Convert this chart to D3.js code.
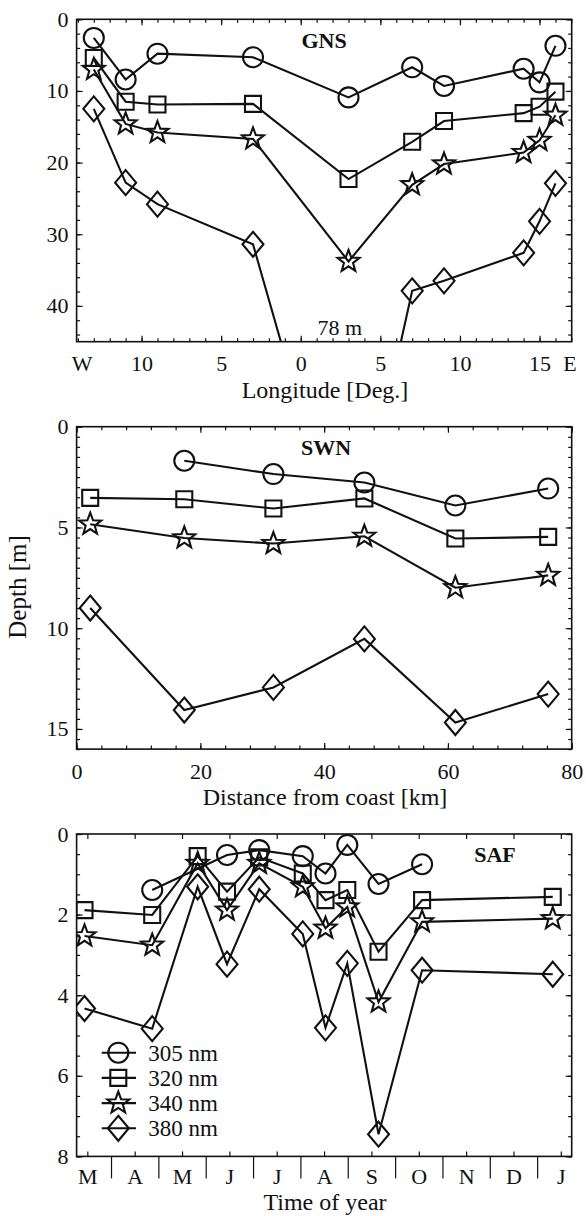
<!DOCTYPE html>
<html>
<head>
<meta charset="utf-8">
<script src="https://cdnjs.cloudflare.com/ajax/libs/d3/7.8.5/d3.min.js"></script>
<style>
  body { margin: 0; background: #fff; }
  text { font-family: "Liberation Serif", "Times New Roman", serif; fill: #111; }
</style>
</head>
<body>
<svg id="chart" width="586" height="1216"></svg>
<script>
// GNS panel: longitude, west is negative
const gnsLon = [-13, -11, -9, -3, 3, 7, 9, 14, 15, 16];
const gns305 = [2.6, 8.4, 4.8, 5.3, 10.9, 6.7, 9.3, 6.9, 8.8, 3.7];
const gns320 = [5.4, 11.5, 11.9, 11.8, 22.3, 17.1, 14.2, 13.1, 12.2, 10.1];
const gns340 = [7.0, 14.6, 15.8, 16.7, 33.8, 23.1, 20.2, 18.6, 16.9, 13.4];
const gns380 = [12.5, 22.8, 25.8, 31.4, 78, 37.9, 36.5, 32.6, 28.2, 22.9];
const gnsXTicks = [-10, -5, 0, 5, 10, 15];
const gnsYTicks = [0, 10, 20, 30, 40];

// SWN panel: distance from coast
const swnDist = [2.2, 17.4, 31.8, 46.5, 61.2, 76.2];
const swn305 = [null, 1.69, 2.35, 2.77, 3.91, 3.07];
const swn320 = [3.53, 3.6, 4.06, 3.56, 5.55, 5.47];
const swn340 = [4.84, 5.52, 5.8, 5.44, 7.99, 7.38];
const swn380 = [9.0, 14.06, 12.94, 10.53, 14.68, 13.27];
const swnXTicks = [0, 20, 40, 60, 80];
const swnYTicks = [0, 5, 10, 15];

// SAF panel: time of year in months (Jan = 0, March = 2..3)
const safMonth = [2.44, 3.87, 4.83, 5.45, 6.13, 7.05, 7.53, 7.99, 8.65, 9.57, 12.33];
const saf305 = [null, 1.39, null, 0.52, 0.40, 0.55, 0.98, 0.27, 1.24, 0.75, null];
const saf320 = [1.89, 2.01, 0.55, 1.43, 0.58, 0.98, 1.64, 1.39, 2.92, 1.64, 1.56];
const saf340 = [2.53, 2.76, 0.73, 1.89, 0.73, 1.31, 2.34, 1.81, 4.17, 2.18, 2.10];
const saf380 = [4.33, 4.83, 1.31, 3.23, 1.37, 2.48, 4.81, 3.21, 7.45, 3.38, 3.48];
const monthLabels = ["M", "A", "M", "J", "J", "A", "S", "O", "N", "D", "J"];
const safYTicks = [0, 2, 4, 6, 8];

const seriesNames = ["305 nm", "320 nm", "340 nm", "380 nm"];
const markerKinds = ["circle", "square", "star", "diamond"];

const svg = d3.select("#chart");
const left = 76.6, right = 571.7, plotH = 322.4;
const tickFont = 22;

function markerPath(kind) {
    if (kind === "circle") {
        const p = d3.path(); p.arc(0, 0, 10, 0, 2 * Math.PI); p.closePath(); return p.toString();
    }
    if (kind === "square") return "M-8,-8H8V8H-8Z";
    if (kind === "diamond") return "M0,-12.5L10.5,0L0,12.5L-10.5,0Z";
    const pts = d3.range(10).map(i => {
        const r = i % 2 === 0 ? 11.5 : 4.8;
        const a = -Math.PI / 2 + i * Math.PI / 5;
        return [r * Math.cos(a), r * Math.sin(a)];
    });
    return "M" + pts.map(p => p.join(",")).join("L") + "Z";
}

function drawPanel(id, top, xDomain, yDomain, xs, series) {
    const x = d3.scaleLinear().domain(xDomain).range([left, right]);
    const y = d3.scaleLinear().domain(yDomain).range([top, top + plotH]);
    const g = svg.append("g");

    g.append("clipPath").attr("id", "clip-" + id)
        .append("rect").attr("x", left).attr("y", top)
        .attr("width", right - left).attr("height", plotH);

    const plot = g.append("g").attr("clip-path", "url(#clip-" + id + ")");
    series.forEach((vals, si) => {
        const pts = xs.map((xv, i) => [xv, vals[i]]).filter(d => d[1] != null);
        plot.append("path")
            .attr("d", d3.line().x(d => x(d[0])).y(d => y(d[1]))(pts))
            .attr("fill", "none").attr("stroke", "#111").attr("stroke-width", 2.1);
        plot.selectAll(null).data(pts).enter().append("path")
            .attr("transform", d => "translate(" + x(d[0]) + "," + y(d[1]) + ")")
            .attr("d", markerPath(markerKinds[si]))
            .attr("fill", "none").attr("stroke", "#111").attr("stroke-width", 2.1);
    });

    g.append("rect").attr("x", left).attr("y", top)
        .attr("width", right - left).attr("height", plotH)
        .attr("fill", "none").attr("stroke", "#111").attr("stroke-width", 1.6);
    return { g, x, y, top };
}

function styleAxis(sel) {
    sel.select(".domain").remove();
    sel.selectAll("line").attr("stroke", "#111").attr("stroke-width", 1.2);
    sel.selectAll("text").attr("font-size", tickFont).attr("fill", "#111");
}

function sideTicks(p, yMajor, yMinor, xMajor, xMinor, xFormat) {
    const { g, x, y, top } = p;
    const bottom = top + plotH;
    // left / right
    g.append("g").attr("transform", "translate(" + left + ",0)")
        .call(d3.axisLeft(y).tickValues(yMajor).tickSize(-6).tickPadding(8)).call(styleAxis);
    g.append("g").attr("transform", "translate(" + left + ",0)")
        .call(d3.axisLeft(y).tickValues(yMinor).tickSize(-3.5).tickFormat("")).call(styleAxis);
    g.append("g").attr("transform", "translate(" + right + ",0)")
        .call(d3.axisRight(y).tickValues(yMajor).tickSize(-6).tickFormat("")).call(styleAxis);
    g.append("g").attr("transform", "translate(" + right + ",0)")
        .call(d3.axisRight(y).tickValues(yMinor).tickSize(-3.5).tickFormat("")).call(styleAxis);
    if (xMajor) {
        g.append("g").attr("transform", "translate(0," + bottom + ")")
            .call(d3.axisBottom(x).tickValues(xMajor).tickSize(-6).tickPadding(14).tickFormat(xFormat)).call(styleAxis);
        g.append("g").attr("transform", "translate(0," + bottom + ")")
            .call(d3.axisBottom(x).tickValues(xMinor).tickSize(-3.5).tickFormat("")).call(styleAxis);
        g.append("g").attr("transform", "translate(0," + top + ")")
            .call(d3.axisTop(x).tickValues(xMajor).tickSize(-6).tickFormat("")).call(styleAxis);
        g.append("g").attr("transform", "translate(0," + top + ")")
            .call(d3.axisTop(x).tickValues(xMinor).tickSize(-3.5).tickFormat("")).call(styleAxis);
    }
}

function axisTitle(text, cx, cy) {
    svg.append("text").attr("x", cx).attr("y", cy).attr("text-anchor", "middle")
        .attr("font-size", 24).text(text);
}

function panelTitle(text, cx, cy) {
    svg.append("text").attr("x", cx).attr("y", cy).attr("text-anchor", "middle")
        .attr("font-size", 22).attr("font-weight", "bold").text(text);
}

// ---- GNS
const p1 = drawPanel("gns", 19.3, [-14.08, 17.02], [0, 45], gnsLon, [gns305, gns320, gns340, gns380]);
sideTicks(p1, gnsYTicks, d3.range(0, 46, 2), gnsXTicks, d3.range(-14, 18, 1), d => Math.abs(d));
p1.g.append("text").attr("x", p1.x(-13.74)).attr("y", p1.top + plotH + 29.5)
    .attr("text-anchor", "middle").attr("font-size", tickFont).text("W");
p1.g.append("text").attr("x", p1.x(16.91)).attr("y", p1.top + plotH + 29.5)
    .attr("text-anchor", "middle").attr("font-size", tickFont).text("E");
p1.g.append("text").attr("x", p1.x(2.46)).attr("y", p1.top + plotH - 7)
    .attr("text-anchor", "middle").attr("font-size", 22).text("78 m");
panelTitle("GNS", 324, 48);
axisTitle("Longitude [Deg.]", 325, 398);

// ---- SWN
const p2 = drawPanel("swn", 426.7, [0, 80], [0, 16], swnDist, [swn305, swn320, swn340, swn380]);
sideTicks(p2, swnYTicks, d3.range(0, 16.01, 0.5), swnXTicks, d3.range(0, 81, 4), d => d);
panelTitle("SWN", 326, 455);
axisTitle("Distance from coast [km]", 325, 805);
svg.append("text").attr("transform", "translate(26,587) rotate(-90)")
    .attr("text-anchor", "middle").attr("font-size", 25).text("Depth [m]");

// ---- SAF
const p3 = drawPanel("saf", 834, [2.273, 12.73], [0, 8], safMonth, [saf305, saf320, saf340, saf380]);
sideTicks(p3, safYTicks, d3.range(0, 8.01, 0.5));
const monthCenters = monthLabels.map((m, i) => i + 2.5);
const monthEdges = d3.range(3, 13);
const b3 = p3.top + plotH;
p3.g.append("g").attr("transform", "translate(0," + b3 + ")")
    .call(d3.axisBottom(p3.x).tickValues(monthCenters).tickSize(-5).tickPadding(12)
        .tickFormat((d, i) => monthLabels[i])).call(styleAxis);
p3.g.append("g").attr("transform", "translate(0," + b3 + ")")
    .call(d3.axisBottom(p3.x).tickValues(monthEdges).tickSize(22).tickFormat("")).call(styleAxis);
p3.g.append("g").attr("transform", "translate(0," + p3.top + ")")
    .call(d3.axisTop(p3.x).tickValues(monthCenters).tickSize(-5).tickFormat("")).call(styleAxis);
panelTitle("SAF", 495, 862);
axisTitle("Time of year", 325, 1210);

// legend
const legend = svg.append("g");
seriesNames.forEach((name, i) => {
    const cy = 1052.7 + i * 25.2;
    legend.append("line").attr("x1", 101.7).attr("x2", 136).attr("y1", cy).attr("y2", cy)
        .attr("stroke", "#111").attr("stroke-width", 2.1);
    legend.append("path").attr("transform", "translate(118.3," + cy + ")")
        .attr("d", markerPath(markerKinds[i]))
        .attr("fill", "none").attr("stroke", "#111").attr("stroke-width", 2.1);
    legend.append("text").attr("x", 148.3).attr("y", cy).attr("dy", "0.35em")
        .attr("font-size", 23).text(name);
});
</script>
</body>
</html>
